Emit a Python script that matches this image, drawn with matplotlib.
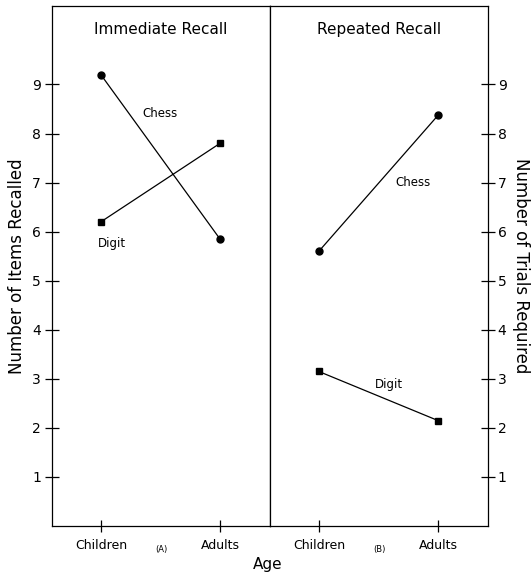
import matplotlib
matplotlib.use("Agg")
import matplotlib.pyplot as plt

# ── Данные ──
ages = ["Children", "Adults"]
immediate_chess = [9.2, 5.85]
immediate_digit = [6.2, 7.8]
repeated_chess = [5.6, 8.37]
repeated_digit = [3.15, 2.15]
y_ticks = [1, 2, 3, 4, 5, 6, 7, 8, 9]

plt.rcParams["font.family"] = ["DejaVu Sans"]

fig = plt.figure(figsize=(5.31, 5.82), dpi=100)
fig.patch.set_facecolor("white")
ax_a = fig.add_axes([0.098, 0.0962, 0.4105, 0.8935])
ax_b = fig.add_axes([0.5085, 0.0962, 0.4105, 0.8935])

xs = list(range(len(ages)))
line_kw = dict(color="black", linewidth=0.9)

ax_a.plot(xs, immediate_chess, marker="o", markersize=5, **line_kw)
ax_a.plot(xs, immediate_digit, marker="s", markersize=4.5, **line_kw)
ax_b.plot(xs, repeated_chess, marker="o", markersize=5, **line_kw)
ax_b.plot(xs, repeated_digit, marker="s", markersize=4.5, **line_kw)

lbl = dict(fontsize=8.5, color="black")
ax_a.text(0.5, 8.4, "Chess", ha="center", va="center", **lbl)
ax_a.text(0.09, 5.75, "Digit", ha="center", va="center", **lbl)
ax_b.text(0.79, 7.0, "Chess", ha="center", va="center", **lbl)
ax_b.text(0.59, 2.88, "Digit", ha="center", va="center", **lbl)

for ax, title, sub in ((ax_a, "Immediate Recall", "(A)"),
                       (ax_b, "Repeated Recall", "(B)")):
    ax.set_xlim(-0.41, 1.42)
    ax.set_ylim(0, 10.6)
    ax.set_xticks(xs)
    ax.set_xticklabels(ages, fontsize=9)
    ax.tick_params(axis="x", direction="inout", length=8, width=0.9, pad=5)
    ax.text(0.5, 0.955, title, transform=ax.transAxes, ha="center",
            va="center", fontsize=11)
    ax.text(0.5, -0.045, sub, transform=ax.transAxes, ha="center",
            va="center", fontsize=6)
    for s in ax.spines.values():
        s.set_color("black")
        s.set_linewidth(0.9)

ax_a.set_yticks(y_ticks)
ax_a.tick_params(axis="y", direction="inout", length=10, width=0.9,
                 labelsize=10, pad=3)
ax_a.set_ylabel("Number of Items Recalled", fontsize=12, labelpad=4)

ax_b.yaxis.tick_right()
ax_b.yaxis.set_label_position("right")
ax_b.set_yticks(y_ticks)
ax_b.tick_params(axis="y", direction="inout", length=10, width=0.9,
                 labelsize=10, pad=2)
ax_b.set_ylabel("Number of Trials Required", fontsize=12, rotation=270,
                labelpad=17)

fig.text(0.505, 0.017, "Age", ha="center", va="bottom", fontsize=11)

fig.savefig("out.png", dpi=100, facecolor="white")
